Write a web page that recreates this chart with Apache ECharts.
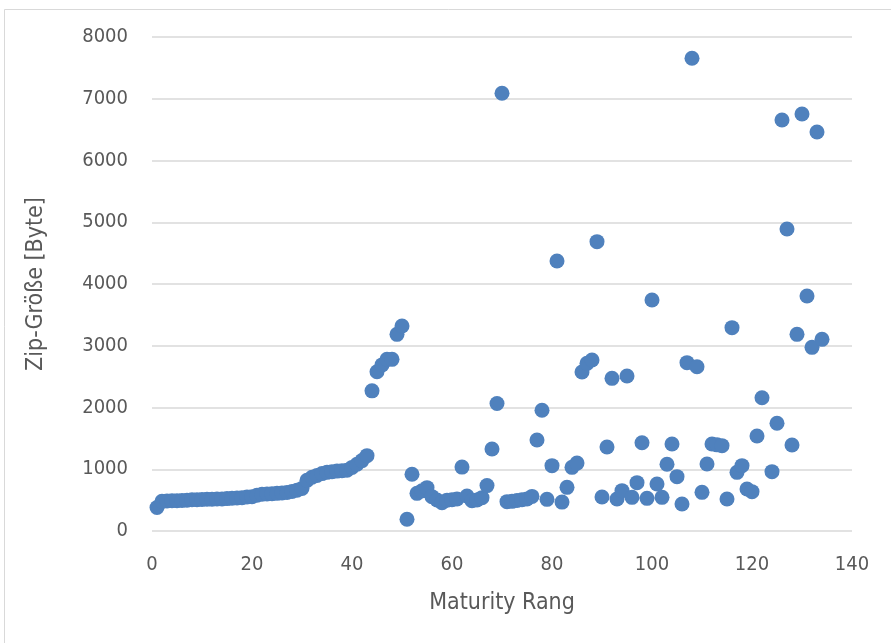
<!DOCTYPE html>
<html>
<head>
<meta charset="utf-8">
<style>
  html, body { margin: 0; padding: 0; background: #fff; }
  #main { width: 891px; height: 643px; }
</style>
<script src="https://cdn.jsdelivr.net/npm/echarts@6/dist/echarts.min.js"></script>
</head>
<body>
<div id="main"></div>
<script>
// Maturity Rang (x) und Zip-Größe in Byte (y)
var rang = [
  1, 2, 3, 4, 5, 6, 7, 8, 9, 10,
  11, 12, 13, 14, 15, 16, 17, 18, 19, 20,
  21, 22, 23, 24, 25, 26, 27, 28, 29, 30,
  31, 32, 33, 34, 35, 36, 37, 38, 39, 40,
  41, 42, 43, 44, 45, 46, 47, 48, 49, 50,
  51, 52, 53, 54, 55, 56, 57, 58, 59, 60,
  61, 62, 63, 64, 65, 66, 67, 68, 69, 70,
  71, 72, 73, 74, 75, 76, 77, 78, 79, 80,
  81, 82, 83, 84, 85, 86, 87, 88, 89, 90,
  91, 92, 93, 94, 95, 96, 97, 98, 99, 100,
  101, 102, 103, 104, 105, 106, 107, 108, 109, 110,
  111, 112, 113, 114, 115, 116, 117, 118, 119, 120,
  121, 122, 124, 125, 126, 127, 128, 129, 130,
  131, 132, 133, 134
];
var zipGroesse = [
  380, 480, 485, 490, 490, 495, 500, 505, 505, 510,
  515, 515, 520, 520, 525, 530, 535, 540, 550, 555,
  580, 595, 600, 605, 610, 615, 625, 640, 660, 690,
  820, 870, 900, 930, 950, 960, 970, 975, 985, 1030,
  1080, 1140, 1220, 2270, 2580, 2690, 2780, 2780, 3185, 3320,
  190, 918, 610, 650, 702, 556, 502, 459, 500, 505,
  520, 1035, 567, 490, 502, 540, 735, 1328, 2065, 7090,
  475, 480, 495, 505, 520, 560, 1474, 1955, 513, 1058,
  4372, 468, 707, 1031, 1100, 2575, 2715, 2769, 4686, 550,
  1360, 2472, 518, 653, 2510, 545, 783, 1430, 529, 3741,
  761, 545, 1080, 1409, 880, 437, 2726, 7655, 2661, 626,
  1085, 1409, 1395, 1382, 518, 3293, 950, 1058, 680, 637,
  1538, 2159, 961, 1744, 6656, 4891, 1393, 3185, 6753,
  3806, 2974, 6462, 3104
];
var xTicks = { min: 0, max: 140, interval: 20 };
var yTicks = { min: 0, max: 8000, interval: 1000 };

var punkte = rang.map(function (r, i) { return [r, zipGroesse[i]]; });

var schrift = "'DejaVu Sans Condensed', 'Liberation Sans', sans-serif";
var grau = '#595959';

var myChart = echarts.init(document.getElementById('main'));
myChart.setOption({
  animation: false,
  backgroundColor: '#fff',
  graphic: [{
    type: 'rect',
    shape: { x: 4.5, y: 9.5, width: 920, height: 700 },
    style: { fill: 'none', stroke: '#d9d9d9', lineWidth: 1 },
    silent: true
  }],
  grid: { left: 152, right: 39, top: 37, bottom: 112 },
  xAxis: {
    type: 'value',
    min: xTicks.min, max: xTicks.max, interval: xTicks.interval,
    name: 'Maturity Rang',
    nameLocation: 'middle',
    nameGap: 61,
    nameTextStyle: { fontFamily: schrift, fontSize: 23, color: grau },
    axisLine: { show: false },
    axisTick: { show: false },
    splitLine: { show: false },
    axisLabel: { fontFamily: schrift, fontSize: 20, color: grau, margin: 24 }
  },
  yAxis: {
    type: 'value',
    min: yTicks.min, max: yTicks.max, interval: yTicks.interval,
    name: 'Zip-Größe [Byte]',
    nameLocation: 'middle',
    nameGap: 104,
    nameTextStyle: { fontFamily: schrift, fontSize: 23, color: grau },
    axisLine: { show: false },
    axisTick: { show: false },
    splitLine: { lineStyle: { color: '#d9d9d9', width: 1.5 } },
    axisLabel: {
      fontFamily: schrift, fontSize: 20, color: grau, margin: 24,
      formatter: function (v) { return String(v); }
    }
  },
  series: [{
    type: 'scatter',
    data: punkte,
    symbolSize: 15,
    itemStyle: { color: '#4f81bd', opacity: 1 }
  }]
});
</script>
</body>
</html>
